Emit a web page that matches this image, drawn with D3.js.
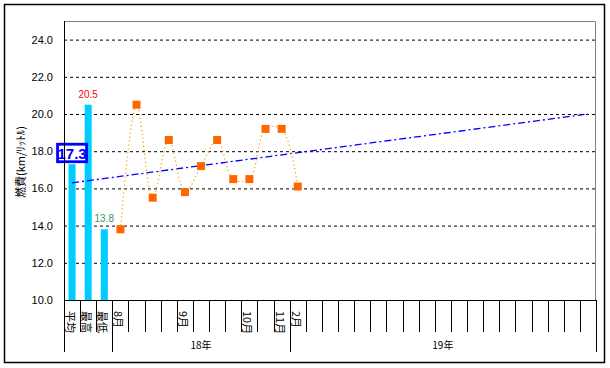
<!DOCTYPE html>
<html>
<head>
<meta charset="utf-8">
<script src="https://cdn.jsdelivr.net/npm/d3@7"></script>
<style>
  body { margin:0; background:#fff; }
  text { font-family:"Liberation Sans","Noto Sans CJK JP",sans-serif; }
</style>
</head>
<body>
<div id="chart"></div>
<script>
// categories along the bottom (33 slots)
const categories = ["平均","最高","最低","8月","","","","9月","","","","10月","","11月","2月",
  "","","","","","","","","","","","","","","","","",""]
const years = [ { label:"18年", from:3, to:13 }, { label:"19年", from:14, to:32 } ]
// summary bars
const barValues = [17.3, 20.5, 13.8]
const barLabelColors = ["#0000ff","#ff0000","#339966"]
// monthly fuel economy, slot index 3..14
const monthIndex = [3,4,5,6,7,8,9,10,11,12,13,14]
const monthValues = [13.8,20.5,15.5,18.6,15.8,17.2,18.6,16.5,16.5,19.2,19.2,16.1]
// trend line, read at first and last slot
const trendIndex = [0,32]
const trendValues = [16.3,20.0]
const yTicks = [10,12,14,16,18,20,22,24]

function render(){
  let width = 610, height = 368,
      margin = { top:21, left:64, right:14, bottom:68 },
      innerWidth = width - margin.left - margin.right,
      innerHeight = height - margin.top - margin.bottom

  let svg = d3.select("#chart").append("svg").attr("width",width).attr("height",height)
  svg.append("rect").attr("x",4.5).attr("y",4.5).attr("width",600).attr("height",358)
    .attr("fill","#fff").attr("stroke","#000").attr("stroke-width",1.5)

  let g = svg.append("g").attr("transform",`translate(${margin.left},${margin.top})`)

  let xScale = d3.scaleBand().domain(d3.range(categories.length)).range([0,innerWidth])
  let yScale = d3.scaleLinear().domain([10,25]).range([innerHeight,0])
  let cx = i => xScale(i) + xScale.bandwidth()/2

  // grid
  g.selectAll(".grid").data(yTicks.slice(1)).enter().append("line")
    .attr("x1",0).attr("x2",innerWidth)
    .attr("y1",d=>yScale(d)+0.5).attr("y2",d=>yScale(d)+0.5)
    .attr("stroke","#000").attr("stroke-dasharray","3,3")

  // plot frame (top / right grey)
  g.append("path").attr("d",`M0,0.5H${innerWidth-0.5}V${innerHeight}`)
    .attr("fill","none").attr("stroke","#808080")

  // y axis
  let yAxis = d3.axisLeft(yScale).tickValues(yTicks).tickFormat(d3.format(".1f")).tickSize(0).tickPadding(11)
  let ya = g.append("g").call(yAxis)
  ya.select(".domain").remove()
  ya.selectAll("text").attr("font-size",11).attr("fill","#000")
    .style("font-family","'Liberation Sans',sans-serif")

  // bars
  g.selectAll(".bar").data(barValues).enter().append("rect")
    .attr("x",(d,i)=>cx(i)-3.5).attr("width",7)
    .attr("y",d=>yScale(d)).attr("height",d=>innerHeight-yScale(d))
    .attr("fill","#00ccff")

  // bar labels
  g.selectAll(".blab").data(barValues).enter().filter((d,i)=>i>0).append("text")
    .attr("x",(d,i)=>cx(i+1)).attr("y",d=>yScale(d)-7)
    .attr("text-anchor","middle").attr("font-size",10)
    .attr("fill",(d,i)=>barLabelColors[i+1]).text(d=>d.toFixed(1))

  let avg = g.append("g").attr("transform",`translate(${cx(0)},${yScale(barValues[0])-1})`)
  avg.append("rect").attr("x",-14.5).attr("y",-19).attr("width",29).attr("height",17.5)
    .attr("fill","#fff").attr("stroke","#0000ff").attr("stroke-width",2.8)
  avg.append("text").attr("x",0).attr("y",-4.5).attr("text-anchor","middle")
    .attr("font-size",15).attr("font-weight","bold").attr("fill","#0000ff").text(barValues[0].toFixed(1))

  // trend
  let trend = trendIndex.map((d,i)=>[cx(d),yScale(trendValues[i])])
  g.append("path").attr("d",d3.line()(trend)).attr("fill","none")
    .attr("stroke","#0000ff").attr("stroke-width",1.3).attr("stroke-dasharray","7,3,2,3")

  // monthly line
  let pts = monthIndex.map((d,i)=>[cx(d),yScale(monthValues[i])])
  g.append("path").attr("d",d3.line().curve(d3.curveCatmullRom.alpha(0.5))(pts))
    .attr("fill","none").attr("stroke","#ff9900").attr("stroke-width",1.2).attr("stroke-dasharray","1.2,2.8")
  g.selectAll(".pt").data(pts).enter().append("rect")
    .attr("x",d=>d[0]-4).attr("y",d=>d[1]-4).attr("width",8).attr("height",8)
    .attr("fill","#ff6600")

  // x axis
  g.append("line").attr("x1",0).attr("x2",innerWidth).attr("y1",innerHeight+0.5).attr("y2",innerHeight+0.5).attr("stroke","#000")
  g.append("line").attr("x1",0.5).attr("x2",0.5).attr("y1",0).attr("y2",innerHeight+52).attr("stroke","#000")
  let bounds = d3.range(1,categories.length+1)
  g.selectAll(".tick2").data(bounds).enter().append("line")
    .attr("x1",d=>Math.round(d*xScale.bandwidth())+0.5).attr("x2",d=>Math.round(d*xScale.bandwidth())+0.5)
    .attr("y1",innerHeight).attr("y2",d=>years.some(y=>y.to+1===d || y.from===d) ? innerHeight+52 : innerHeight+32)
    .attr("stroke","#000")

  g.selectAll(".clab").data(categories).enter().append("text")
    .attr("transform",(d,i)=>`translate(${cx(i)-1},${innerHeight+11}) rotate(90)`)
    .attr("dominant-baseline","central").attr("font-size",11)
    .style("font-family","'Noto Sans CJK JP',sans-serif").text(d=>d)

  g.selectAll(".ylab").data(years).enter().append("text")
    .attr("x",d=>(xScale(d.from)+xScale(d.to)+xScale.bandwidth())/2).attr("y",innerHeight+49)
    .attr("text-anchor","middle").attr("font-size",10)
    .style("font-family","'Noto Sans CJK JP',sans-serif").text(d=>d.label)

  // y title
  svg.append("text").attr("transform","translate(20,162) rotate(-90)")
    .attr("text-anchor","middle").attr("dominant-baseline","central").attr("font-size",11)
    .style("font-family","'Noto Sans CJK JP',sans-serif").text("燃費(km/ﾘｯﾄﾙ)")
}

render()
</script>
</body>
</html>
